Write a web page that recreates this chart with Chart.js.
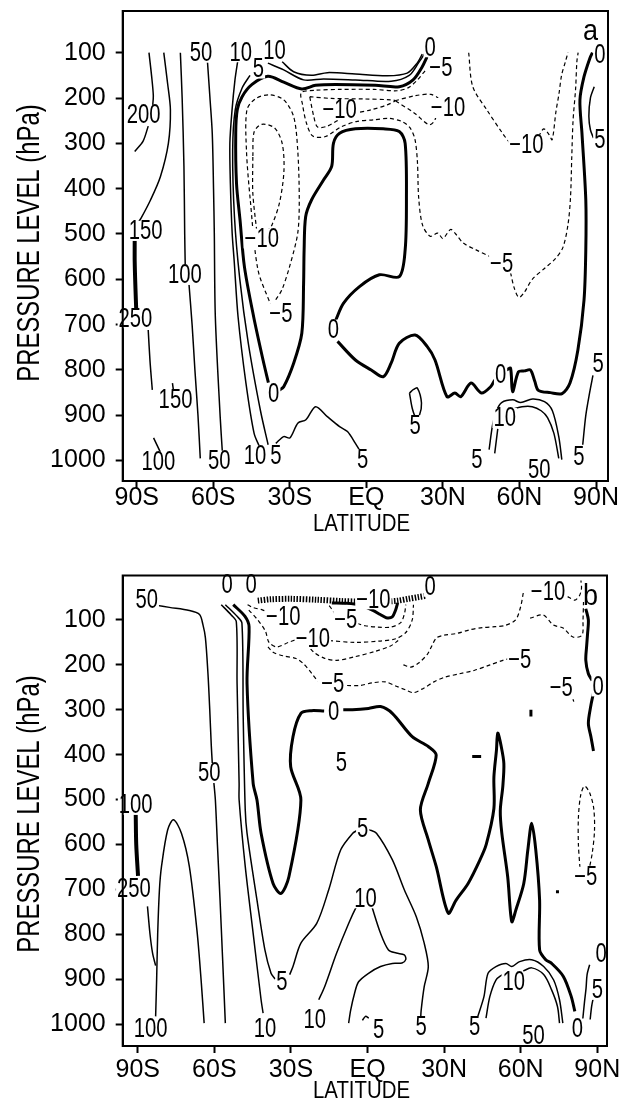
<!DOCTYPE html>
<html lang="en">
<head>
<meta charset="UTF-8">
<title>Zonal mean pressure-latitude sections</title>
<script src="https://cdn.jsdelivr.net/npm/chart.js@4"></script>
<style>
  html, body { margin: 0; padding: 0; background: #fff; }
  #wrap { position: relative; width: 621px; height: 1104px; }
  .panel { position: absolute; left: 0; width: 621px; height: 552px; }
</style>
</head>
<body>
<div id="wrap">
  <div class="panel" style="top:0"><canvas id="chartA" width="621" height="552"></canvas></div>
  <div class="panel" style="top:552px"><canvas id="chartB" width="621" height="552"></canvas></div>
</div>
<script>
// axes
const latTicks = [-90, -60, -30, 0, 30, 60, 90];
const latNames = ['90S', '60S', '30S', 'EQ', '30N', '60N', '90N'];
const presTicks = [100, 200, 300, 400, 500, 600, 700, 800, 900, 1000];

// ---- panel a contours: [latitude, hPa] ----
const a200n = [[-85.2,100],[-84.2,150],[-83.5,195],[-83.8,220]];
const a200s = [[-85.5,262],[-87.5,295],[-90.8,318]];
const a150 = [[-79.4,100],[-77.9,168],[-76.8,226],[-77.6,300],[-80.7,373],[-84.6,425],[-88.3,465],[-89.8,478]];
const a150bar = [[-90.8,515],[-90.8,560],[-90.5,620],[-90.2,667]];
const a150low = [[-85.5,712],[-84.8,780],[-83.9,844]];
const a150tick = [[-76,829],[-75.6,846]];
const a100low = [[-83.4,950],[-80.7,982]];
const a100n = [[-72.9,100],[-72.2,200],[-71.5,350],[-71.2,500],[-71.0,568]];
const a100s = [[-69.5,612],[-68.3,700],[-67.2,800],[-66.0,900],[-65.1,995]];
const a50 = [[-62.3,118],[-61.3,200],[-60.4,278],[-59.9,400],[-59.6,498],[-59.2,682],[-57.3,903],[-56.4,985]];
const a10 = [[-50.3,114],[-51.5,160],[-52.7,230],[-53.5,300],[-53.3,388],[-52.6,498],[-51.8,560],[-50.3,682],[-47.2,829],[-44.0,940],[-42.0,968]];
const a5w = [[-45.6,150],[-48.7,178],[-51.4,226],[-52.4,315],[-51.7,462],[-49.6,600],[-46.3,740],[-41.5,890],[-38.5,965]];
const a5top = [[-38.6,123],[-32.4,138],[-24.6,160],[-16.8,158],[-4.3,160],[9.7,163],[16.8,150],[20.5,122],[23,101]];
const a10top = [[-33,120],[-28.5,142],[-21.5,150],[-15.3,144],[-4.3,147],[8.2,151],[16,145],[19.9,123],[21.9,103]];
const a0top = [[23.8,109],[21.9,131],[18.3,160],[12.9,175],[3.5,172],[-12.1,170],[-19.9,172],[-25.3,180],[-32.4,165],[-38.6,152],[-44.8,170],[-48.7,197],[-50.6,226],[-51.2,278],[-50.9,388],[-49.5,470],[-47.8,572],[-44.2,682],[-40.5,778],[-38.4,828]];
const a0mid = [[-34.2,845],[-32.4,837],[-28.5,785],[-25.3,719],[-24.6,609],[-24.4,535],[-23.8,462],[-21.5,425],[-16.8,381],[-13.6,351],[-12.9,300],[-10.5,278],[-4.3,268],[6.6,268],[12.9,274],[15.2,300],[15.7,425],[15.2,535],[12.9,594],[5.1,590],[-2.7,616],[-9,653],[-12,690]];
const a0ne = [[-11.3,737],[-4.3,778],[1.9,800],[6.6,815],[9.7,785],[12.9,741],[19.1,723],[23.8,748],[26.9,778],[31.6,859],[34.7,851],[37,859],[41,829],[45.1,851],[48.7,837],[50.3,822]];
const a0pole = [[55,800],[56.5,796],[57.3,848],[59.6,804],[62,802],[64.3,800],[66,825],[67.4,845],[72.1,850],[76.7,852],[79.8,829],[82.9,756],[85.3,646],[86,535],[86,425],[84.5,278],[83.7,204],[85.3,153],[87.6,112],[88.6,100]];
const am5main = [[23,140],[20,160],[16.5,177],[12,184],[3,181],[-10,181],[-20,183],[-25.5,188],[-25,215],[-23.5,255],[-21,284],[-16,285],[-10,264],[-4,252],[3,248],[9,245],[14,252],[17,265],[19,290],[20,340],[20.5,420],[22,480],[25,505],[28,498],[30,510],[33,490],[35,500],[38,520],[43,535],[48.5,550]];
const am5ne = [[56.5,585],[58,620],[59.8,640],[62,628],[65,600],[70,575],[74,555],[77,530],[79,480],[80,420],[80.5,330],[81,250],[82,180],[82.5,120],[83,100]];
const am5loop = [[-35.5,645],[-33.1,623],[-30.1,572],[-26.9,498],[-26.3,425],[-26.9,315],[-28.5,241],[-32.4,204],[-37.9,193],[-43.3,201],[-46.8,226],[-47,315],[-45.5,425],[-42.5,579],[-37.5,656]];
const am10loopA = [[-39,495],[-37,480],[-34,430],[-32.3,360],[-33,300],[-36,266],[-41,258],[-44,275],[-44.5,330]];
const am10loopB = [[-44.5,330],[-44.5,410],[-43,492]];
const abowL = [[-22.2,197],[-13.7,201],[-1.2,202],[9.7,204],[11.3,206],[8.2,215],[1.9,226],[-7.4,238],[-15.3,262],[-19.1,264],[-20.6,241],[-22.2,197]];
const abowR = [[11.3,206],[19,195],[25.3,192],[28.4,204],[26.9,248],[24.6,259],[19,234],[11.3,206]];
const am10a = [[40.1,100],[41.7,175],[47.2,226],[53.4,278],[57,305]];
const am10b = [[67.5,285],[69.5,268],[71.5,280],[72.8,292],[74.3,230],[75.5,190],[76.5,150],[78,120],[79,100]];
const a5eq = [[-35.5,962],[-32.4,947],[-30,950],[-26.8,917],[-23.7,910],[-19.9,881],[-15.3,903],[-10.5,925],[-7.4,936],[-4.3,962],[-2.8,976]];
const a5loop20 = [[16.9,851],[18.5,843],[20,840],[21.6,873],[20.8,900],[19.5,906],[18,885],[16.9,851]];
const a5arc = [[48.1,976],[49.5,920],[51,890],[53,872],[57.4,866],[60.5,872],[65.1,864],[69.8,870],[72.9,890],[75.4,947],[76.6,998]];
const a10arcL = [[50.3,984],[51.5,930]];
const a10arcR = [[57.5,886],[61,881],[65,881],[68.5,890],[71,905],[73.5,940],[75.4,995]];
const a5np = [[89.3,175],[87.8,200],[87.2,240],[87.8,270],[89,288]];
const a5npLow = [[84.8,965],[86,900],[87.5,850],[88.8,812]];

const aLabels = [
  [-87.3,237,'200'],[-86.5,493,'150'],[-90.5,686,'250'],[-74.8,866,'150'],[-81.5,1002,'100'],
  [-71.1,590,'100'],[-64.8,100,'50'],[-57.7,1000,'50'],[-49.2,99,'10'],[-43.6,989,'10'],
  [-35.5,989,'5'],[-42.3,135,'5'],[-36,96,'10'],[25,88,'0'],[29.2,132,'\u22125'],
  [-10.5,226,'\u221210'],[32,222,'\u221210'],[-41,510,'\u221210'],[-33.5,675,'\u22125'],
  [-36.3,851,'0'],[-12.9,711,'0'],[52.6,811,'0'],[91.5,103,'0'],[91.5,292,'5'],
  [62.7,303,'\u221210'],[53,565,'\u22125'],[19.1,922,'5'],[-1.5,997,'5'],[54.2,906,'10'],
  [43.3,998,'5'],[67.8,1020,'50'],[83.3,990,'5'],[90.8,785,'5']
];

// ---- panel b contours ----
const b50 = [[-83,67],[-77.6,72],[-69.8,79],[-65.8,88],[-64.5,110],[-63.5,140],[-62.5,220],[-61.8,300],[-61.2,380],[-60.8,420]];
const b50s = [[-60.2,462],[-59.6,501],[-58.8,600],[-57.8,720],[-56.8,850],[-55.7,998]];
const b100 = [[-83,983],[-82.6,900],[-82.2,800],[-81.5,700],[-80.7,649],[-78.3,568],[-76,545],[-72.9,575],[-69.8,649],[-66.7,798],[-65.1,909],[-64,998]];
const b100side = [[-86.2,738],[-85.2,800],[-84.2,842],[-83,870]];
const b250bar = [[-90.8,532],[-90.6,600],[-89.9,670]];
const b10 = [[-57.3,66],[-53.4,89],[-51.4,104],[-51.1,241],[-50.3,464],[-50.3,501],[-47.9,649],[-44.8,798],[-41.7,946],[-40.9,976]];
const b5 = [[-55.7,66],[-51.1,92],[-49.2,107],[-48.7,315],[-47.9,523],[-47.2,575],[-43.3,724],[-40.2,835],[-37.8,887],[-36.2,900]];
const b0w = [[-52.6,66],[-48,92],[-46.4,115],[-47.2,241],[-44.8,464],[-43.3,501],[-41.7,575],[-37,687],[-33.9,709],[-30.8,672],[-26.1,501],[-30.1,427],[-29.2,360],[-26.1,308],[-22,302],[-17,303]];
const b0c = [[-9.5,300],[-5.9,300],[0.4,297],[5.1,293],[9.7,308],[17.5,360],[23.8,382],[26.9,401],[23.8,464],[20.7,523],[23.8,590],[26.9,649],[31.6,753],[34.7,724],[39.4,687],[44,635],[46.5,600],[49.5,520],[49.5,450],[50.5,390],[51,352],[52.3,380],[53.4,420],[53,470],[52,525],[52.6,575],[54.9,672],[56.5,772],[58.1,746],[61.2,687],[62.8,612],[64.3,553],[65.9,612],[67.4,724],[67.4,835],[69.8,857],[72.1,865],[76.7,894],[79.8,939],[81.2,972]];
const b5archL = [[-30.5,890],[-29.2,872],[-26.1,820],[-19.9,776],[-15.2,701],[-10.5,612],[-5.8,575],[-3.8,568]];
const b5archR = [[0.5,567],[3.5,575],[9.7,634],[14.4,701],[19.1,761],[22.2,820],[23.8,872],[22.2,917],[21,970],[20.8,990]];
const b10L = [[-19.1,946],[-16.8,917],[-12.1,842],[-7.4,776],[-4.3,738],[-3,727]];
const b10R = [[1.5,735],[5.1,798],[8.2,835],[11.3,842],[14.4,846],[15,856],[13.5,864],[9.7,865],[5.1,872],[0.4,887],[-3.5,906],[-5.1,932],[-6.6,969],[-7.4,998]];
const b5eq = [[-2,992],[-0.8,983],[0.5,987]];
const b5ne = [[43.2,983],[45.6,939],[47.2,887],[50.3,872],[54.2,865],[56.5,872],[59.6,861],[64.3,857],[69,872],[72.9,902],[75.2,946],[76.5,998]];
const b10neL = [[46.4,987],[47.9,939],[50.3,902],[52.8,890]];
const b10neR = [[61,882],[64.3,875],[69,890],[72.1,924],[74.4,961],[75.2,998]];
const b0np = [[84.3,990],[85,950],[85.6,920],[86,890],[87,868]];
const b5np = [[87.2,990],[87.8,960],[88.5,940]];
const b0poleTop = [[85.5,75],[86.5,100],[86.2,130],[85.8,160],[85.5,190],[86.5,220],[88,235]];
const b0poleMid = [[88.5,263],[87.5,290],[86.5,330],[87.5,360],[88.5,392]];
const bHatchW = [[-43,57],[-38,54],[-30,53],[-20,55],[-10,58],[-4,59]];
const bHatchE = [[8,59],[12,57],[16,53],[20,49],[23,46]];
const b0dip = [[-14,62],[-8,63],[-3,67],[1.9,78],[5,88],[7.3,95],[9.7,93],[11,78],[11.8,62]];
const bm10a = [[-47,66],[-45,72],[-41,78],[-37.5,86]];
const bm10bL = [[-46.5,78],[-43,100],[-40,125],[-38.6,150],[-35.5,160],[-31,150],[-27.5,143]];
const bm10bR = [[-15,146],[-5,150],[5,147],[11,142],[15,128],[17.5,100],[18,66]];
const bm10c = [[-24,152],[-21,172],[-17,185],[-12,190],[-5,182],[3,170],[9,158],[12,146]];
const bm5upL = [[-15,68],[-13.5,80],[-12.5,90]];
const bm5upR = [[-4,108],[-1,113],[4,116],[9,116],[13,106],[14.5,85],[15,66]];
const bm5L = [[-39,160],[-37,172],[-33,180],[-28,186],[-25,198],[-22,218],[-19.5,237]];
const bm5R = [[-8,246],[-3,246],[2,240],[7,238],[11,247],[15,256],[18,262],[22,252],[26,238],[30,228],[36,220],[42,212],[48,200],[53,190],[55.5,186]];
const bm5ne = [[61,40],[60,70],[58,100],[54,112],[50,115],[45,117],[40,122],[35,130],[30,134],[27,140],[25,160],[23.5,176],[20,196],[17,205],[14,200]];
const bm10ne = [[63.7,96],[68.8,89],[72.7,111],[76.6,118],[80.5,138],[84,134],[84.4,100],[84.6,60]];
const bm10top = [[76,40],[79,50],[81.2,56],[83,46],[83.8,30],[83.6,12]];
const bm5loop = [[83.2,652],[82.6,600],[82.6,540],[83.5,490],[85,470],[87,485],[88.6,520],[88.9,570],[88,620],[86.8,655]];
const bm5bit = [[79.5,262],[80.8,282]];
const bMark1 = [[41,404],[44.5,404]];
const bMark2 = [[64,300],[64,315]];
const bMark3 = [[74.4,702],[74.4,709]];

const bLabels = [
  [-86.5,55,'50'],[-62,441,'50'],[-90.8,512,'100'],[-91.5,698,'250'],[-85,1010,'100'],
  [-40.2,1010,'10'],[-33.5,906,'5'],[-55,22,'0'],[-45.6,22,'0'],[24.5,26,'0'],
  [2.3,54,'\u221210'],[-33,93,'\u221210'],[-8.5,98,'\u22125'],[-21.4,142,'\u221210'],
  [-13.6,241,'\u22125'],[59.6,189,'\u22125'],[70.7,36,'\u221210'],[75.9,250,'\u22125'],
  [90.3,248,'0'],[-13.3,304,'0'],[-10.2,417,'5'],[-1.9,564,'5'],[-0.8,720,'10'],
  [-20.7,991,'10'],[4.3,1013,'5'],[21,1006,'5'],[42,1006,'5'],[57.3,906,'10'],
  [65,1026,'50'],[82.2,1010,'0'],[91.5,842,'0'],[90,924,'5'],[85.5,672,'\u22125']
];

const linesA = [
  [a200n,'thin'],[a200s,'thin'],[a150,'thin'],[a150bar,'bar'],[a150low,'thin'],[a150tick,'thin'],
  [a100low,'thin'],[a100n,'thin'],[a100s,'thin'],[a50,'thin'],[a10,'thin'],[a5w,'thin'],
  [a5top,'thin'],[a10top,'thin'],[a0top,'thick'],[a0mid,'thick'],[a0ne,'thick'],[a0pole,'thick'],
  [am5main,'dash'],[am5ne,'dash'],[am5loop,'dash'],[am10loopA,'dash'],[am10loopB,'dash'],
  [abowL,'dash'],[abowR,'dash'],[am10a,'dash'],[am10b,'dash'],[a5eq,'thin'],[a5loop20,'thin'],
  [a5arc,'thin'],[a10arcL,'thin'],[a10arcR,'thin'],[a5np,'thin'],[a5npLow,'thin']
];
const linesB = [
  [b50,'thin'],[b50s,'thin'],[b100,'thin'],[b100side,'thin'],[b250bar,'bar'],[b10,'thin'],[b5,'thin'],
  [b0w,'thick'],[b0c,'thick'],[b5archL,'thin'],[b5archR,'thin'],[b10L,'thin'],[b10R,'thin'],
  [b5eq,'thin'],[b5ne,'thin'],[b10neL,'thin'],[b10neR,'thin'],[b0np,'thin'],[b5np,'thin'],
  [b0poleTop,'thick'],[b0poleMid,'thick'],[bHatchW,'hatch'],[bHatchE,'hatch'],[b0dip,'thick'],
  [bm10a,'dash'],[bm10bL,'dash'],[bm10bR,'dash'],[bm10c,'dash'],[bm5upL,'dash'],[bm5upR,'dash'],
  [bm5L,'dash'],[bm5R,'dash'],[bm5ne,'dash'],[bm10ne,'dash'],[bm10top,'dash'],[bm5loop,'dash'],
  [bm5bit,'dash'],[bMark1,'thick'],[bMark2,'thick'],[bMark3,'thick']
];

const FONT = "'Liberation Sans', Arial, Helvetica, sans-serif";
Chart.defaults.font.family = FONT;
Chart.defaults.color = '#000';

const styles = {
  thin:  { w: 1.5, dash: [] },
  thick: { w: 3,   dash: [] },
  dash:  { w: 1.2, dash: [4, 3] },
  hatch: { w: 6,   dash: [1.5, 1.5] },
  bar:   { w: 4,   dash: [] }
};

// narrow text: draw with a horizontal squeeze
function narrowText(ctx, t, x, y, size, sx) {
  ctx.save();
  ctx.font = size + 'px ' + FONT;
  ctx.translate(x, y);
  ctx.scale(sx, 1);
  ctx.fillText(t, 0, 0);
  ctx.restore();
}

const overlay = {
  id: 'overlay',
  afterDatasetsDraw(chart) {
    const o = chart.options.plugins.overlay;
    const { ctx, chartArea: ca, scales } = chart;
    ctx.save();
    ctx.textAlign = 'center';
    ctx.textBaseline = 'middle';
    ctx.font = '27px ' + FONT;
    o.labels.forEach(([lat, p, t]) => {
      const px = scales.x.getPixelForValue(lat);
      const py = scales.y.getPixelForValue(p);
      const w = ctx.measureText(t).width * 0.75;
      ctx.fillStyle = '#fff';
      ctx.fillRect(px - w / 2 - 1, py - 10, w + 2, 20);
      ctx.fillStyle = '#000';
      narrowText(ctx, t, px, py + 1, 27, 0.75);
    });
    ctx.strokeStyle = '#000';
    ctx.lineWidth = 2;
    ctx.strokeRect(ca.left, ca.top, ca.right - ca.left, ca.bottom - ca.top);
    // panel letter
    narrowText(ctx, o.letter, 590.5, o.letterY, 30, 0.9);
    // axis titles
    narrowText(ctx, 'LATITUDE', 361.5, o.xTitleY, 24, 0.85);
    ctx.translate(30, o.yTitleY);
    ctx.rotate(-Math.PI / 2);
    narrowText(ctx, 'PRESSURE LEVEL (hPa)', 0, 0, 31, 0.77);
    ctx.restore();
  }
};

function makePanel(id, lines, labels, o) {
  const datasets = lines.map(([pts, kind]) => ({
    data: pts.map(p => ({ x: p[0], y: p[1] })),
    showLine: true,
    pointRadius: 0,
    borderColor: '#000',
    borderWidth: styles[kind].w,
    borderDash: styles[kind].dash,
    tension: 0.3,
    fill: false
  }));
  return new Chart(document.getElementById(id), {
    type: 'scatter',
    data: { datasets },
    plugins: [overlay],
    options: {
      responsive: false,
      animation: false,
      events: [],
      layout: { padding: { left: 0, right: o.padRight, top: o.padTop, bottom: 0 } },
      plugins: {
        legend: { display: false },
        tooltip: { enabled: false },
        overlay: { labels, letter: o.letter, letterY: o.letterY, xTitleY: o.xTitleY, yTitleY: o.yTitleY }
      },
      scales: {
        x: {
          type: 'linear', min: o.xMin, max: o.xMax,
          afterBuildTicks: s => { s.ticks = latTicks.map(v => ({ value: v })); },
          afterFit: s => { s.height = o.xAxisH; s.paddingLeft = 0; s.paddingRight = 0; },
          ticks: {
            autoSkip: false, maxRotation: 0, padding: o.xPad, color: '#000',
            font: { size: 25, lineHeight: 1 },
            callback: v => latNames[latTicks.indexOf(v)]
          },
          grid: { drawOnChartArea: false, drawTicks: true, tickLength: 7, tickColor: '#000', tickWidth: 2, color: '#000' },
          border: { display: true, color: '#000', width: 2 }
        },
        y: {
          type: 'linear', reverse: true, min: o.yMin, max: o.yMax,
          afterBuildTicks: s => { s.ticks = presTicks.map(v => ({ value: v })); },
          afterFit: s => { s.width = 122.7; s.paddingTop = 0; s.paddingBottom = 0; },
          ticks: {
            autoSkip: false, padding: 10, color: '#000',
            font: { size: 25 },
            callback: v => String(v)
          },
          grid: { drawOnChartArea: false, drawTicks: true, tickLength: 7, tickColor: '#000', tickWidth: 2, color: '#000' },
          border: { display: true, color: '#000', width: 2 }
        }
      }
    }
  });
}

makePanel('chartA', linesA, aLabels, {
  xMin: -95.5, xMax: 94.7, yMin: 8, yMax: 1045,
  padTop: 11, padRight: 13, xAxisH: 71, xPad: -2,
  letter: 'a', letterY: 32, xTitleY: 524, yTitleY: 243
});
makePanel('chartB', linesB, bLabels, {
  xMin: -95.9, xMax: 93.8, yMin: 1, yMax: 1049,
  padTop: 23.5, padRight: 14, xAxisH: 58, xPad: 5,
  letter: 'b', letterY: 45, xTitleY: 539, yTitleY: 262
});
</script>
</body>
</html>
